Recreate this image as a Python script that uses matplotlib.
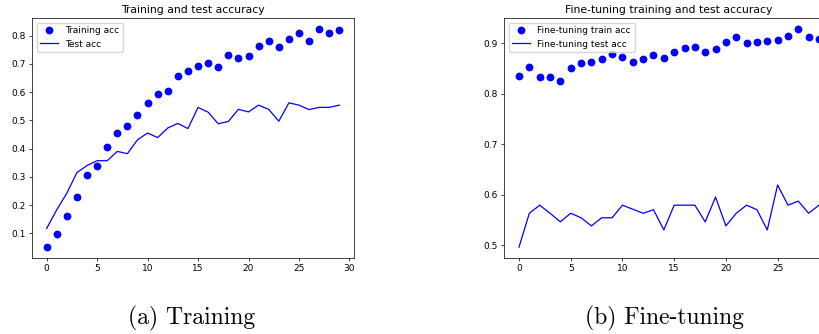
import matplotlib
matplotlib.use("Agg")
import matplotlib.pyplot as plt

epochs = list(range(30))

# (a) training from scratch
train_acc = [0.051, 0.096, 0.162, 0.229, 0.305, 0.340, 0.405, 0.454, 0.481, 0.519,
             0.562, 0.592, 0.603, 0.657, 0.674, 0.694, 0.703, 0.689, 0.733, 0.721,
             0.728, 0.763, 0.781, 0.760, 0.789, 0.811, 0.781, 0.824, 0.811, 0.821]
test_acc = [0.117, 0.183, 0.242, 0.315, 0.340, 0.357, 0.357, 0.390, 0.382, 0.431,
            0.455, 0.439, 0.473, 0.489, 0.471, 0.546, 0.529, 0.488, 0.496, 0.539,
            0.530, 0.554, 0.539, 0.497, 0.562, 0.554, 0.538, 0.546, 0.546, 0.554]

# (b) fine-tuning
ft_train_acc = [0.835, 0.852, 0.832, 0.833, 0.825, 0.850, 0.860, 0.862, 0.868, 0.878,
                0.872, 0.862, 0.868, 0.876, 0.870, 0.882, 0.890, 0.892, 0.883, 0.888,
                0.902, 0.912, 0.900, 0.903, 0.905, 0.907, 0.913, 0.928, 0.911, 0.909]
ft_test_acc = [0.496, 0.563, 0.579, 0.563, 0.546, 0.563, 0.554, 0.538, 0.554, 0.554,
               0.579, 0.571, 0.563, 0.570, 0.530, 0.579, 0.579, 0.579, 0.546, 0.595,
               0.538, 0.563, 0.579, 0.570, 0.530, 0.619, 0.579, 0.587, 0.563, 0.579]

s = 0.65  # the plots were shrunk to fit the page
W, H = 819, 334

fig = plt.figure(figsize=(W / 100, H / 100), dpi=100)
ax1 = fig.add_axes([32 / W, 76 / H, 322 / W, 240 / H])
ax2 = fig.add_axes([504 / W, 76 / H, 330 / W, 240 / H])


def style(ax, title):
    ax.set_title(title, fontsize=12 * s, pad=6 * s)
    ax.tick_params(labelsize=10 * s, length=3.5 * s, width=0.8 * s, pad=3.5 * s)
    for sp in ax.spines.values():
        sp.set_linewidth(0.8 * s)
    ax.legend(loc="upper left", fontsize=10 * s, handlelength=2.0,
              borderpad=0.4, labelspacing=0.5, framealpha=0.8)


ax1.plot(epochs, train_acc, "bo", markersize=4.6, label="Training acc")
ax1.plot(epochs, test_acc, "b", linewidth=0.9, label="Test acc")
ax1.set_xticks([0, 5, 10, 15, 20, 25, 30])
style(ax1, "Training and test accuracy")

ax2.plot(epochs, ft_train_acc, "bo", markersize=4.6, label="Fine-tuning train acc")
ax2.plot(epochs, ft_test_acc, "b", linewidth=0.9, label="Fine-tuning test acc")
ax2.set_xticks([0, 5, 10, 15, 20, 25, 30])
ax2.set_yticks([0.5, 0.6, 0.7, 0.8, 0.9])
style(ax2, "Fine-tuning training and test accuracy")

fig.text(192 / W, 1 - 318 / H, "(a) Training", family="cmr10", fontsize=17,
         ha="center", va="center")
fig.text(664 / W, 1 - 318 / H, "(b) Fine-tuning", family="cmr10", fontsize=17,
         ha="center", va="center")

fig.savefig("out.png", dpi=100)
